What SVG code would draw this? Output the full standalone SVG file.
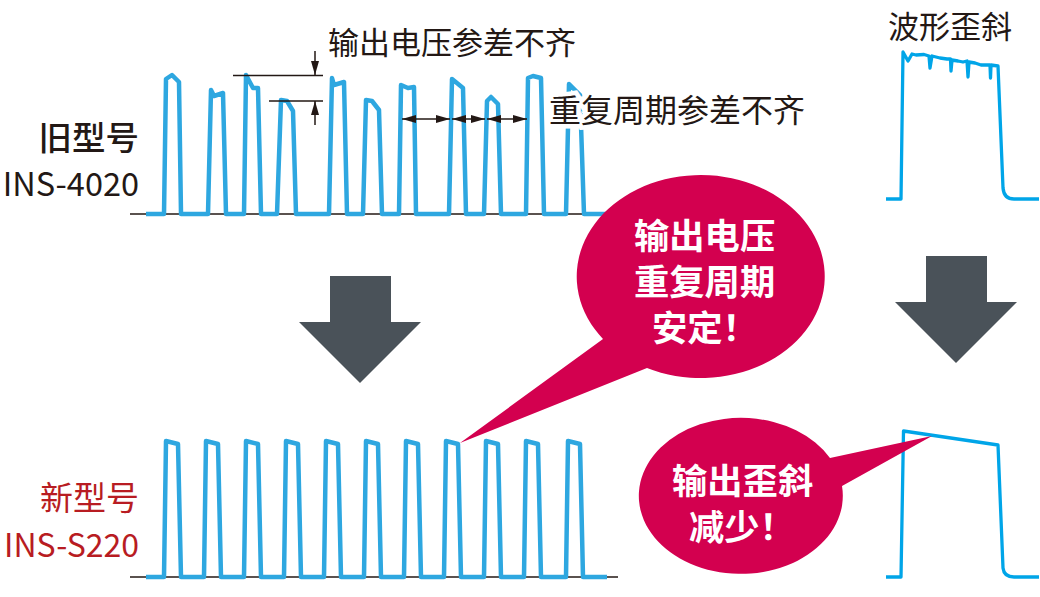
<svg xmlns="http://www.w3.org/2000/svg" width="1040" height="597" viewBox="0 0 1040 597">
<style>
.t{font-family:"Noto Sans CJK SC","Noto Sans",sans-serif;fill:#231815}
.w{fill:none;stroke:#2ea7e0;stroke-width:4.500;stroke-linejoin:round}
.r{fill:none;stroke:#00a5e8;stroke-width:3.300;stroke-linejoin:round}
.b{stroke:#231815;stroke-width:1.500;fill:none}
.c{font-family:"Noto Sans CJK SC",sans-serif;font-weight:700;font-size:35.300px;fill:#fff}
.ar{fill:#4a5259}
.bub{fill:#d3004f}
</style>
<defs><marker id="a" viewBox="0 0 14 8" refX="14" refY="4" markerWidth="14" markerHeight="8" orient="auto-start-reverse" markerUnits="userSpaceOnUse"><path d="M0 0L14 4L0 8Z" fill="#231815"/></marker></defs>
<g id="old-waveform">
<path class="b" d="M130 214H605"/>
<path class="w" d="M146 214H164L166 79L172 75L179 82L181 214H208L211 90L214 96L223 93L226 214H244L246 75L253 88L258 88L261 214H277L281 100L287 101L293 111L296 214H329L332 78L334 85L344 82L347 214H363L366 100L372 101L379 110L382 214H399L401 85L408 88L414 87L416 214H449L452 79L463 88L466 214H484L487 101L491 97L498 104L501 214H526L528 78L533 76L541 78L544 214H566L569 84L580 95L584 214H606"/>
</g>
<g id="new-waveform">
<path class="b" d="M130 577H618"/>
<path class="w" d="M146 577H164L166 441L178 444L181 577H204L206 441L218 444L221 577H244L246 441L258 444L261 577H284L286 441L298 444L301 577H324L326 441L338 444L341 577H364L366 441L378 444L381 577H404L406 441L418 444L421 577H444L446 441L458 444L461 577H484L486 441L498 444L501 577H524L526 441L538 444L541 577H566L568 441L580 444L583 577H607"/>
</g>
<g id="connectors">
<path class="b" d="M233 75.500H323M269 101H323"/>
<path class="b" d="M315 51V75" marker-end="url(#a)"/>
<path class="b" d="M315 125V101" marker-end="url(#a)"/>
<path class="b" d="M402 119H450" marker-start="url(#a)" marker-end="url(#a)"/>
<path class="b" d="M452 119H485" marker-start="url(#a)" marker-end="url(#a)"/>
<path class="b" d="M487 119H527" marker-start="url(#a)" marker-end="url(#a)"/>
</g>
<g id="skew-old"><path class="r" d="M886 199H901L903 52L908 61L912 54L916 55L924 54.500L929 56L930 68L932 56L940 58L947 59L950.500 59L951 71L952 60L958 61L963 62L967 61L968 77L969 62L975 63L981 65L990 65L990.500 78L991 65L998 66L1003 188Q1004 199 1014 199H1039"/></g>
<g id="skew-new"><path class="r" d="M886 577H901L903.500 431L998 445L1003 568Q1004 577 1014 577H1039"/></g>
<g id="labels">
<text class="t" x="328" y="54" font-size="31">输出电压参差不齐</text>
<text class="t" x="549" y="122" font-size="32" stroke="#fff" stroke-width="9" paint-order="stroke">重复周期参差不齐</text>
<text class="t" x="888" y="38" font-size="31">波形歪斜</text>
<text class="t" x="139" y="150" font-size="33.500" font-weight="500" text-anchor="end">旧型号</text>
<text class="t" x="139" y="196" font-size="32.500" text-anchor="end">INS-4020</text>
<text class="t" x="139" y="510" font-size="33" text-anchor="end" style="fill:#b81c22">新型号</text>
<text class="t" x="139" y="557" font-size="32" text-anchor="end" style="fill:#b81c22">INS-S220</text>
</g>
<g id="arrow-left"><path class="ar" d="M330 276H391V322H421L360 383L299 322H330Z"/></g>
<g id="arrow-right"><path class="ar" d="M926 256H987V302H1017L956 363L895 302H926Z"/></g>
<g id="bubble-1"><path class="bub" d="M460 443L603 339A124 101.500 0 1 1 647 368Z"/>
<text class="c" x="634" y="249">输出电压</text><text class="c" x="634" y="295">重复周期</text><text class="c" x="652" y="341">安定！</text></g>
<g id="bubble-2"><path class="bub" d="M932 436L830 458A102 78 0 1 0 842 486Z"/>
<text class="c" x="672" y="494">输出歪斜</text><text class="c" x="689" y="540">减少！</text></g>
</svg>
